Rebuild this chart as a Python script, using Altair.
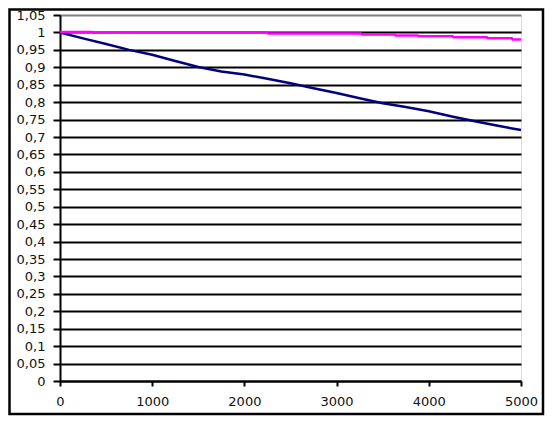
import altair as alt
import pandas as pd

x_vals = [0, 250, 500, 750, 1000, 1250, 1500, 1750, 2000, 2250, 2500, 2750,
          3000, 3250, 3500, 3750, 4000, 4250, 4500, 4750, 5000]
navy_vals = [1.0, 0.983, 0.967, 0.95, 0.936, 0.918, 0.901, 0.888, 0.879, 0.867,
             0.854, 0.84, 0.826, 0.811, 0.797, 0.786, 0.774, 0.759, 0.745, 0.732, 0.72]

mag_x = [0, 350, 360, 2250, 2260, 3265, 3275, 3630, 3640, 3880, 3890,
         4260, 4270, 4630, 4640, 4900, 4910, 5000]
mag_vals = [1.001, 1.001, 1.0, 1.0, 0.997, 0.997, 0.994, 0.994, 0.991, 0.991, 0.989,
            0.989, 0.986, 0.986, 0.983, 0.983, 0.98, 0.98]

y_ticks = [round(i * 0.05, 2) for i in range(22)]
x_ticks = [0, 1000, 2000, 3000, 4000, 5000]

df = pd.concat([
    pd.DataFrame({"x": x_vals, "y": navy_vals, "s": "A"}),
    pd.DataFrame({"x": mag_x, "y": mag_vals, "s": "B"}),
])

W, H = 461, 366
PL, PT, PR, PB = 52, 7, 24, 35

lines = alt.Chart(df).mark_line(strokeWidth=2.5, interpolate="linear").encode(
    x=alt.X("x:Q", scale=alt.Scale(domain=[0, 5000], nice=False),
            axis=alt.Axis(values=x_ticks, title=None, grid=False, domainColor="black",
                          domainWidth=2, tickColor="black", tickWidth=2, tickSize=5,
                          labelFont="DejaVu Sans", labelFontSize=13, labelColor="#111111",
                          labelPadding=9, format="d", labelFlush=False)),
    y=alt.Y("y:Q", scale=alt.Scale(domain=[0, 1.05], nice=False, zero=True),
            axis=alt.Axis(values=y_ticks, title=None, grid=True,
                          gridColor={"condition": {"test": "datum.value >= 1.04", "value": "#808080"}, "value": "black"},
                          gridWidth=2, gridOpacity=1,
                          domainColor="black", domainWidth=2, tickColor="black",
                          tickWidth=2, tickSize=7, labelFont="DejaVu Sans",
                          labelFontSize=13, labelColor="#111111", labelPadding=8,
                          labelExpr="replace(format(datum.value, '.2~f'), '.', ',')")),
    color=alt.Color("s:N", scale=alt.Scale(domain=["A", "B"], range=["#000080", "#FF00FF"]),
                    legend=None),
    order=alt.Order("s:N"),
)

border = alt.Chart(pd.DataFrame({"a": [0]})).mark_rect(
    fill=None, stroke="black", strokeWidth=2.5
).encode(
    x=alt.value(-PL + 1.5), x2=alt.value(W + PR - 2),
    y=alt.value(-PT + 1.5), y2=alt.value(H + PB - 2),
)

chart = alt.layer(lines, border).properties(
    width=W, height=H,
    autosize=alt.AutoSizeParams(type="none"),
    padding={"left": PL, "top": PT, "right": PR, "bottom": PB},
).configure_view(stroke="#808080", strokeWidth=2).configure(background="white")

chart.save("out.html", embed_options={"renderer": "svg", "actions": False})
